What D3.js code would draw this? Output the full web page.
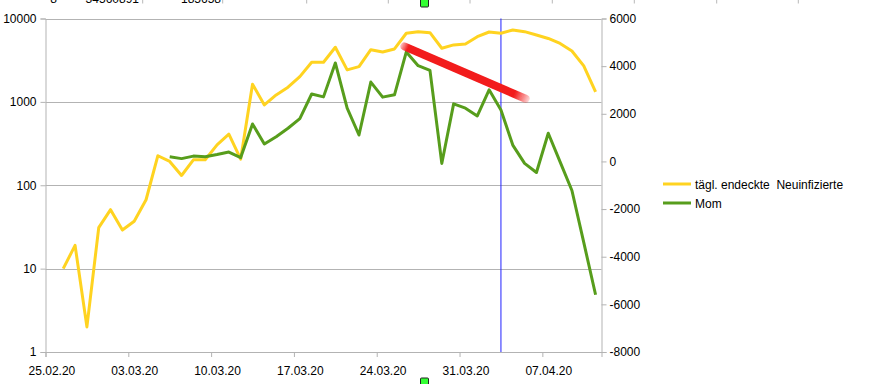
<!DOCTYPE html>
<html><head><meta charset="utf-8">
<script src="https://cdn.jsdelivr.net/npm/d3@7"></script>
<style>
html,body{margin:0;padding:0;background:#fff;}
svg{display:block;font-family:"Liberation Sans",Arial,sans-serif;}
</style></head>
<body>
<svg id="c" width="896" height="384"></svg>
<script>
// ---- data ----
const dates = ["26.02.20","27.02.20","28.02.20","29.02.20","01.03.20","02.03.20","03.03.20","04.03.20","05.03.20",
"06.03.20","07.03.20","08.03.20","09.03.20","10.03.20","11.03.20","12.03.20","13.03.20","14.03.20","15.03.20",
"16.03.20","17.03.20","18.03.20","19.03.20","20.03.20","21.03.20","22.03.20","23.03.20","24.03.20","25.03.20",
"26.03.20","27.03.20","28.03.20","29.03.20","30.03.20","31.03.20","01.04.20","02.04.20","03.04.20","04.04.20",
"05.04.20","06.04.20","07.04.20","08.04.20","09.04.20","10.04.20","11.04.20"];
const neuinfizierte = [10,19,2,31,51,29,37,67,226,
193,131,202,202,305,410,206,1629,920,1213,
1500,2010,2987,2987,4520,2417,2649,4230,3970,4312,
6650,6950,6760,4400,4820,4950,6050,6890,6650,7280,
6950,6340,5760,5020,4080,2700,1318];
const mom = [null,null,null,null,null,null,null,null,null,
194,118,224,194,287,392,160,1573,730,1037,
1392,1800,2830,2710,4133,2235,1109,3331,2699,2796,
4597,4019,3821,-84,2416,2235,1910,3007,2163,687,
-84,-464,1181,-17,-1220,-3400,-5596];
const xTickLabels = ["25.02.20","03.03.20","10.03.20","17.03.20","24.03.20","31.03.20","07.04.20"];
const leftTicks = [1,10,100,1000,10000];
const rightTicks = [-8000,-6000,-4000,-2000,0,2000,4000,6000];
const seriesNames = ["tägl. endeckte  Neuinfizierte","Mom"];
const markerDate = "03.04.20";
// hand-drawn red stroke annotation (date, hour, right-axis value)
const redStroke = [["26.03.20", 8, 4830],["05.04.20", 14, 2630]];
// spreadsheet cells peeking above the chart
const cellTexts = [["8",57],["34560891",139],["185658",221]];
const cellLines = [142.7,222.7,306.7,388.3,470,552.3,634.3,716.7,798.3];

// ---- layout ----
const L = 45.5, R = 601.5, T = 18.5, B = 352;
const yellow = "#ffd320", green = "#579d1c", grid = "#b3b3b3";
const parse = d3.utcParse("%d.%m.%y");
const svg = d3.select("#c");

const x = d3.scaleUtc().domain([parse("25.02.20"), parse("12.04.20")]).range([L, R]);
const yL = d3.scaleLog().domain([1, 10000]).range([B, T]);
const yR = d3.scaleLinear().domain([-8000, 6000]).range([B, T]);
const mid = s => d3.utcHour.offset(parse(s), 12);
const halfDay = x(mid("25.02.20")) - x(parse("25.02.20"));

// top cell artifacts
svg.append("g").selectAll("line").data(cellLines).join("line")
  .attr("x1", d => d).attr("x2", d => d).attr("y1", 0).attr("y2", 3.5)
  .attr("stroke", "#b8b8b8").attr("stroke-width", 1);
svg.append("g").selectAll("text").data(cellTexts).join("text")
  .attr("x", d => d[1]).attr("y", 3).attr("text-anchor", "end")
  .attr("font-size", 12).attr("fill", "#000").text(d => d[0]);

// gridlines
svg.append("g").selectAll("line").data(leftTicks.filter(d => d > 1)).join("line")
  .attr("x1", L).attr("x2", R).attr("y1", d => Math.round(yL(d)) + 0.5).attr("y2", d => Math.round(yL(d)) + 0.5)
  .attr("stroke", grid).attr("stroke-width", 1);

// axes
const ax = (g) => { g.select(".domain").attr("stroke", grid); g.selectAll(".tick line").attr("stroke", grid);
  g.selectAll("text").attr("fill", "#000").attr("font-size", 12).attr("font-family", '"Liberation Sans",Arial,sans-serif'); };
svg.append("g").attr("transform", `translate(${L},0)`)
  .call(d3.axisLeft(yL).tickValues(leftTicks).tickFormat(d3.format("d")).tickSizeOuter(0).tickSize(5).tickPadding(4))
  .call(ax);
svg.append("g").attr("transform", `translate(${R},0)`)
  .call(d3.axisRight(yR).tickValues(rightTicks).tickFormat(d => d).tickSizeOuter(0).tickSize(5).tickPadding(3))
  .call(ax);
svg.append("g").attr("transform", `translate(0,${B})`)
  .call(d3.axisBottom(x).tickValues(xTickLabels.map(parse)).tickFormat(d3.utcFormat("%d.%m.%y")).tickSizeOuter(0).tickSize(5).tickPadding(9))
  .call(ax)
  .call(g => g.selectAll(".tick text").attr("x", halfDay));

// blue marker line
svg.append("line").attr("x1", x(mid(markerDate))).attr("x2", x(mid(markerDate)))
  .attr("y1", T).attr("y2", B).attr("stroke", "#2020ff").attr("stroke-width", 1);

// series
const lineL = d3.line().x((d, i) => x(mid(dates[i]))).y(d => yL(d));
svg.append("path").datum(neuinfizierte).attr("d", lineL)
  .attr("fill", "none").attr("stroke", yellow).attr("stroke-width", 3).attr("stroke-linejoin", "round");
const lineR = d3.line().defined(d => d !== null).x((d, i) => x(mid(dates[i]))).y(d => yR(d));
svg.append("path").datum(mom).attr("d", lineR)
  .attr("fill", "none").attr("stroke", green).attr("stroke-width", 3).attr("stroke-linejoin", "round");

// red stroke annotation
const rs = redStroke.map(d => [x(d3.utcHour.offset(parse(d[0]), d[1])), yR(d[2])]);
const defs = svg.append("defs");
const gr = defs.append("linearGradient").attr("id", "rg").attr("gradientUnits", "userSpaceOnUse")
  .attr("x1", rs[0][0] - 4).attr("y1", rs[0][1] - 2).attr("x2", rs[1][0] + 4).attr("y2", rs[1][1] + 2);
[[0,0.2],[0.06,1],[0.88,1],[1,0.15]].forEach(s => gr.append("stop").attr("offset", s[0]).attr("stop-color", "#f21a1a").attr("stop-opacity", s[1]));
defs.append("filter").attr("id", "bl").append("feGaussianBlur").attr("stdDeviation", 0.6);
svg.append("line").attr("x1", rs[0][0]).attr("y1", rs[0][1]).attr("x2", rs[1][0]).attr("y2", rs[1][1])
  .attr("stroke", "url(#rg)").attr("stroke-width", 8).attr("stroke-linecap", "round").attr("filter", "url(#bl)");

// legend
const lg = svg.append("g").attr("transform", "translate(663,184)");
lg.selectAll("line").data([yellow, green]).join("line")
  .attr("x1", 0).attr("x2", 28).attr("y1", (d, i) => i * 19).attr("y2", (d, i) => i * 19)
  .attr("stroke", d => d).attr("stroke-width", 3);
lg.selectAll("text").data(seriesNames).join("text")
  .attr("x", 32).attr("y", (d, i) => i * 19 + 4.5).attr("font-size", 12).attr("fill", "#000")
  .attr("xml:space", "preserve").style("white-space", "pre").text(d => d);

// green selection handles
svg.selectAll("rect.h").data([[420.5, -3], [420.5, 378]]).join("rect").attr("class", "h")
  .attr("x", d => d[0]).attr("y", d => d[1]).attr("width", 8).attr("height", 10).attr("rx", 1)
  .attr("fill", "#33ff33").attr("stroke", "#222").attr("stroke-width", 1);
</script>
</body></html>
